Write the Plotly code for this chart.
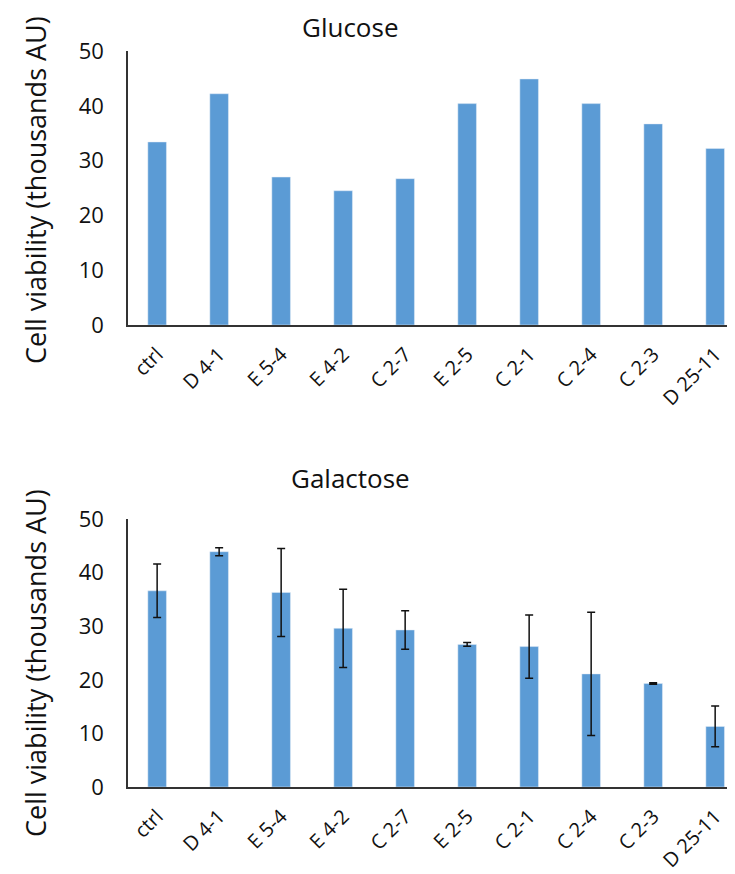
import plotly.graph_objects as go
from plotly.subplots import make_subplots

categories = ["ctrl", "D 4-1", "E 5-4", "E 4-2", "C 2-7", "E 2-5", "C 2-1", "C 2-4", "C 2-3", "D 25-11"]
glucose = [33.4, 42.2, 27.0, 24.5, 26.7, 40.4, 44.9, 40.4, 36.7, 32.2]
galactose = [36.6, 43.9, 36.3, 29.6, 29.3, 26.6, 26.2, 21.1, 19.3, 11.3]
galactose_err = [5.0, 0.75, 8.2, 7.3, 3.6, 0.35, 5.9, 11.5, 0.15, 3.8]

# page body has an 8px margin, so the figure is sized to end at the window edge
OFF = 8
W, H = 735 - OFF, 874 - OFF
FONT = "Open Sans"
BAR = "#5B9BD5"
AX = "#333333"
TXT = "#111111"
LEFT = 128  # screen x of the y-axis line

fig = make_subplots(rows=2, cols=1)

fig.add_trace(go.Bar(x=categories, y=glucose, marker_color=BAR, width=0.3,
                     showlegend=False), row=1, col=1)
fig.add_trace(go.Bar(x=categories, y=galactose, marker_color=BAR, width=0.3,
                     error_y=dict(type="data", array=galactose_err, color=TXT,
                                  thickness=1.5, width=4),
                     showlegend=False), row=2, col=1)

def ydom(top_screen, bot_screen):
    return [1 - (bot_screen - OFF) / H, 1 - (top_screen - OFF) / H]

xrange = [-0.47, 9.32]
common_x = dict(range=xrange, showline=True, linecolor=AX, linewidth=1.5,
                ticks="", tickangle=-45, tickfont=dict(family=FONT, size=20, color=TXT),
                ticklabelstandoff=8,
                showgrid=False, zeroline=False, automargin=False, fixedrange=True)
common_y = dict(range=[0, 50], dtick=10, showline=True, linecolor=AX, linewidth=1.5,
                ticks="", tickfont=dict(family=FONT, size=22, color=TXT),
                showgrid=False, zeroline=False, automargin=False, ticklabelstandoff=18)

fig.update_layout(
    width=W, height=H,
    margin=dict(l=LEFT - OFF, r=0, t=0, b=0),
    paper_bgcolor="white", plot_bgcolor="white",
    xaxis=dict(domain=[0, 1], **common_x),
    xaxis2=dict(domain=[0, 1], **common_x),
    yaxis=dict(domain=ydom(51, 325), **common_y),
    yaxis2=dict(domain=ydom(519, 787), **common_y),
    font=dict(family=FONT),
)

def sx(px):
    return (px - LEFT) / (W - (LEFT - OFF))

def sy(py):
    return 1 - (py - OFF) / H

annots = [
    dict(text="Glucose", x=sx(350), y=sy(27), size=26, angle=0),
    dict(text="Galactose", x=sx(350), y=sy(478), size=26, angle=0),
    dict(text="Cell viability (thousands AU)", x=sx(35), y=sy(190), size=27, angle=-90),
    dict(text="Cell viability (thousands AU)", x=sx(35), y=sy(663), size=27, angle=-90),
]
for a in annots:
    fig.add_annotation(text=a["text"], x=a["x"], y=a["y"], xref="paper", yref="paper",
                       xanchor="center", yanchor="middle", showarrow=False,
                       textangle=a["angle"], font=dict(family=FONT, size=a["size"], color=TXT))

fig.write_html("out.html")
